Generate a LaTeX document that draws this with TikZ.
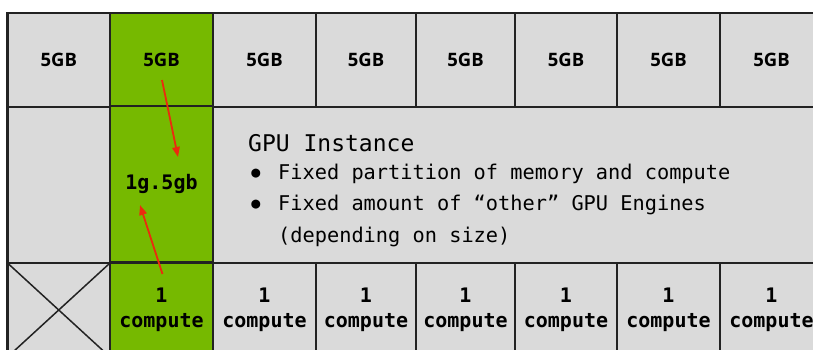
\documentclass[tikz,border=0pt]{standalone}
\usepackage{fontspec}
\setmainfont{DejaVu Sans Mono}
\newfontfamily\gbfont{Open Sans}
\usetikzlibrary{arrows.meta}
\definecolor{nvgreen}{RGB}{118,185,0}
\definecolor{cellgray}{RGB}{218,218,218}
\definecolor{gridline}{RGB}{34,34,34}
\definecolor{arrowred}{RGB}{236,42,14}
\begin{document}
\begin{tikzpicture}[x=1pt,y=-1pt,
  cell/.style={draw=gridline, line width=2.4pt, fill=cellgray, inner sep=0pt, outer sep=0pt, align=center},
  gcell/.style={cell, fill=nvgreen},
  gbtext/.style={font=\gbfont\bfseries\fontsize{18.5}{18.5}\selectfont},
  mono/.style={font=\bfseries\fontsize{20}{25}\selectfont},
  desc/.style={font=\fontsize{20.3}{21}\selectfont, anchor=west, inner sep=0pt},
  redarrow/.style={draw=arrowred, line width=1.8pt, -{Triangle[length=10pt,width=7.5pt]}}]
\useasboundingbox (0,0) rectangle (813,349);
\fill[white] (0,0) rectangle (813,349);
\clip (0,0) rectangle (813,349);
% top row
\foreach \l/\r [count=\i] in {7.5/110,110/213,213/316,316/416,416/515,515/617,617/720,720/823}{
  \node[cell, gbtext, minimum width={(\r-\l)*1pt}, minimum height=94pt] (t\i) at ({(\l+\r)/2},60) {5GB};
}
\node[gcell, gbtext, minimum width=103pt, minimum height=94pt] (t2) at (161.5,60) {5GB};
% middle row
\node[cell, minimum width=102.5pt, minimum height=156pt] (m1) at (58.75,185) {};
\node[cell, minimum width=610pt, minimum height=156pt] (m3) at (518,185) {};
\node[gcell, mono, minimum width=103pt, minimum height=156pt] (m2) at (161.5,184) {1g.5gb};
% bottom row
\node[cell, minimum width=102.5pt, minimum height=94pt] (b1) at (58.75,310) {};
\draw[gridline, line width=1.5pt] (b1.north west) -- (b1.south east);
\draw[gridline, line width=1.5pt] (b1.north east) -- (b1.south west);
\foreach \l/\r [count=\i from 3] in {213/316,316/416,416/515,515/617,617/720,720/823}{
  \node[cell, mono, minimum width={(\r-\l)*1pt}, minimum height=94pt] (b\i) at ({(\l+\r)/2},310) {1\\compute};
}
\node[gcell, mono, minimum width=103pt, minimum height=94pt] (b2) at (161.5,310) {1\\compute};
% description
\node[desc, font=\fontsize{23}{23}\selectfont] (head) at (248,143) {GPU Instance};
\node[font=\fontsize{15}{15}\selectfont, inner sep=0pt] (bul1) at (256,174) {●};
\node[desc] (l1) at (278,174) {Fixed partition of memory and compute};
\node[font=\fontsize{15}{15}\selectfont, inner sep=0pt] (bul2) at (256,205) {●};
\node[desc] (l2) at (278,205) {Fixed amount of “other” GPU Engines};
\node[desc] (l3) at (278,237) {(depending on size)};
% arrows
\coordinate (a1s) at (162,80);
\coordinate (a1e) at (178,157);
\coordinate (a2s) at (162.5,274);
\coordinate (a2e) at (140,205);
\draw[redarrow] (a1s) -- (a1e);
\draw[redarrow] (a2s) -- (a2e);
\end{tikzpicture}
\end{document}
